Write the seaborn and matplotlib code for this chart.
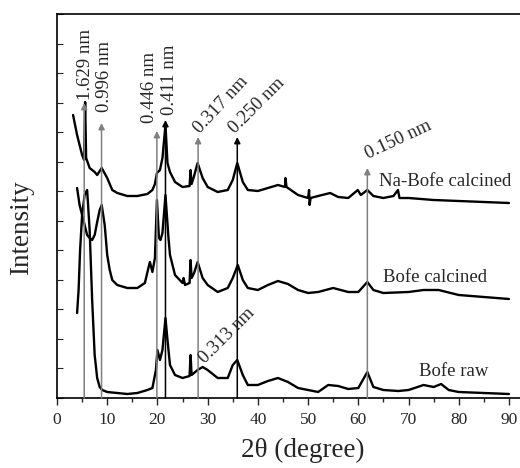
import numpy as np
import pandas as pd
import matplotlib
matplotlib.use("Agg")
import matplotlib.pyplot as plt
import seaborn as sns

# ---- data (intensity in arbitrary units, curves already stacked) ----
na_x = [3.2, 4, 5, 5.4, 5.6, 5.8, 6.5, 7.5, 8, 8.9, 10, 11, 12, 14, 16, 18, 19, 19.5, 19.9,
        20.5, 21, 21.6, 22, 22.5, 23.5, 25, 26.4, 26.6, 26.8, 27.3, 28, 29, 30, 32, 34, 35,
        35.9, 37, 38, 40, 42, 44, 45.4, 45.5, 45.7, 48, 50, 50.2, 50.3, 50.5, 52, 54.4, 56,
        58, 59.9, 60.5, 61.8, 63, 65, 67, 67.9, 68.2, 70, 75, 80, 85, 90]
na_y = [283, 263, 243, 238, 296, 240, 230, 226, 223, 230, 220, 208, 205, 202, 202, 204, 208, 214, 225,
        228, 240, 273, 235, 226, 216, 211, 212, 228, 214, 222, 235, 220, 211, 206, 208, 218,
        235, 216, 208, 207, 210, 213, 211, 220, 211, 203, 200, 208, 193, 200, 202, 205, 201,
        200, 208, 203, 208, 202, 200, 202, 208, 200, 200, 198, 197, 196, 195]

calc_x = [4, 4.5, 5, 5.5, 6, 6.5, 7, 7.5, 8, 8.5, 8.9, 9.5, 10, 10.5, 11, 12, 14, 16, 17.5,
          18.2, 18.5, 19, 19.5, 19.9, 20.3, 20.6, 21, 21.6, 22.2, 22.5, 23.5, 25, 25.2, 25.5,
          26.4, 26.6, 26.8, 27.3, 28, 29, 30, 32, 34, 35, 36, 37, 38, 40, 42, 44, 46, 48, 50,
          52, 55, 58, 60, 61.8, 63, 65, 70, 73, 76, 80, 85, 90]
calc_y = [210, 193, 183, 173, 163, 160, 158, 163, 176, 188, 193, 173, 143, 128, 118, 113, 110, 110, 115,
          130, 136, 126, 140, 198, 160, 158, 165, 203, 160, 143, 123, 115, 120, 113,
          115, 138, 120, 125, 136, 120, 113, 106, 110, 120, 133, 118, 110, 108, 113, 117, 114, 108, 105,
          106, 110, 106, 106, 116, 108, 105, 106, 108, 108, 103, 101, 99]

raw_x = [4, 4.3, 4.6, 5, 5.5, 6, 6.5, 7, 7.5, 8, 8.5, 9, 10, 12, 14, 16, 18, 19, 19.7, 20,
         20.5, 21, 21.6, 22, 22.5, 23.5, 25, 26.4, 26.6, 26.8, 28, 29, 30, 32, 34, 35, 35.9,
         37, 38, 40, 42, 44, 46, 48, 50, 52, 54, 56, 58, 60, 61.8, 63, 65, 68, 70, 73, 75,
         76.5, 78, 80, 85, 90]
raw_y = [85, 108, 148, 183, 203, 208, 168, 98, 43, 20, 11, 8, 6, 5, 4, 5, 8, 10, 28, 48,
         38, 48, 80, 58, 33, 23, 20, 22, 43, 23, 28, 31, 28, 20, 20, 33, 38,
         23, 13, 13, 17, 20, 16, 10, 8, 6, 13, 12, 9, 10, 26, 11, 8, 7, 8, 13, 11,
         14, 8, 6, 5, 4]

series_names = ["Na-Bofe calcined", "Bofe calcined", "Bofe raw"]
label_x = [64.1, 64.9, 72.1]
label_y = [216, 120, 26]

# d-spacing annotations
peak_pos = [5.42, 8.87, 19.89, 21.6, 28.1, 35.9, 61.8]
peak_tip = [295, 275, 267, 278, 261, 261, 230]
peak_color = ["#808080", "#808080", "#808080", "black", "#808080", "black", "#808080"]

d_labels = ["1.629 nm", "0.996 nm", "0.446 nm", "0.411 nm", "0.317 nm", "0.250 nm", "0.150 nm", "0.313 nm"]
d_lab_x = [5.77, 9.36, 18.5, 22.5, 29.1, 36.0, 62.3, 30.0]
d_lab_y = [298, 286, 275, 283, 261, 261, 235, 31]
d_lab_rot = [90, 90, 90, 90, 47, 45, 25, 45]

xticks = [0, 10, 20, 30, 40, 50, 60, 70, 80, 90]

df = pd.concat([
    pd.DataFrame({"two_theta": na_x, "intensity": na_y, "sample": series_names[0]}),
    pd.DataFrame({"two_theta": calc_x, "intensity": calc_y, "sample": series_names[1]}),
    pd.DataFrame({"two_theta": raw_x, "intensity": raw_y, "sample": series_names[2]}),
])

sns.set_style("ticks")
plt.rcParams["font.family"] = ["Liberation Serif", "DejaVu Serif"]
plt.rcParams["mathtext.fontset"] = "stix"

fig = plt.figure(figsize=(5.2, 4.68), dpi=100)
ax = fig.add_axes([57 / 520, 1 - 398 / 468, 1 - 57 / 520, (398 - 14) / 468])

for name in series_names:
    sns.lineplot(data=df[df["sample"] == name], x="two_theta", y="intensity",
                 color="black", linewidth=1.7, ax=ax, sort=False, estimator=None,
                 legend=False)

for x, tip, c in zip(peak_pos, peak_tip, peak_color):
    ax.annotate("", xy=(x, tip), xytext=(x, 0),
                arrowprops=dict(arrowstyle="-|>", color=c, lw=1.1,
                                mutation_scale=9, shrinkA=0, shrinkB=0))

for t, x, y, r in zip(d_labels, d_lab_x, d_lab_y, d_lab_rot):
    if r == 90:
        ax.text(x, y, t, rotation=90, ha="center", va="bottom", fontsize=13.5)
    else:
        ax.text(x, y, t, rotation=r, rotation_mode="anchor", ha="left", va="bottom",
                fontsize=13.5)

for t, x, y in zip(series_names, label_x, label_y):
    ax.text(x, y, t, ha="left", va="center", fontsize=13.5)

ax.set_xlim(0, 92.2)
ax.set_ylim(0, 384)
ax.set_xticks(xticks)
ax.set_xticks(np.arange(5, 92, 10), minor=True)
ax.set_yticks(np.linspace(0, 384, 14))
ax.set_yticklabels([])
ax.tick_params(axis="x", which="major", direction="out", length=5, width=1,
               labelsize=12.5, pad=5, top=False)
ax.tick_params(axis="x", which="minor", direction="out", length=3, width=1, top=False)
ax.tick_params(axis="y", direction="in", length=4, width=0.8, left=True, right=False)

ax.spines["right"].set_visible(False)
for s in ["left", "bottom", "top"]:
    ax.spines[s].set_linewidth(1.2)
    ax.spines[s].set_color("black")

ax.set_xlabel("2θ (degree)", fontsize=19.5)
ax.set_ylabel("Intensity", fontsize=19.5)
ax.xaxis.set_label_coords((303 - 57) / 463, (398 - 438) / 384)
ax.yaxis.set_label_coords((34 - 57) / 463, (398 - 228) / 384)

fig.savefig("out.png", dpi=100)
